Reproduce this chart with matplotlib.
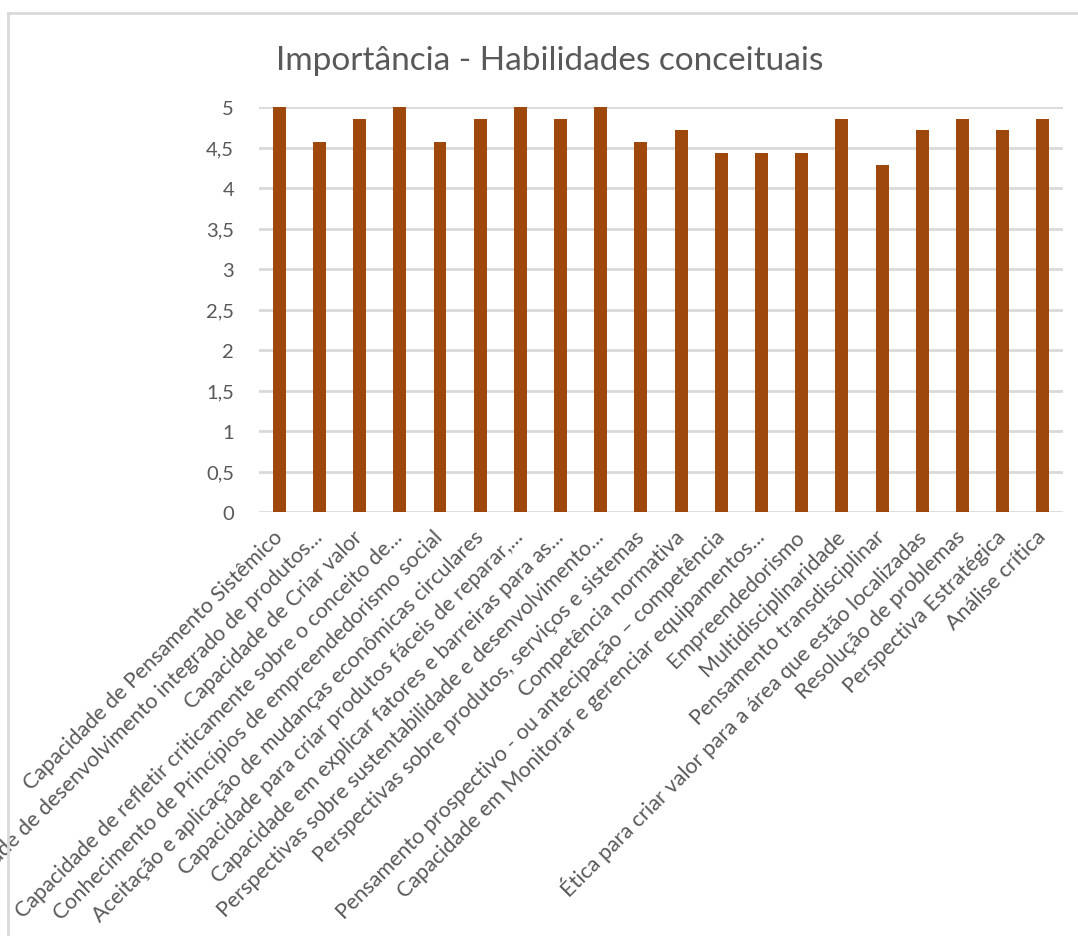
import matplotlib.pyplot as plt
from matplotlib.lines import Line2D
from matplotlib.ticker import FuncFormatter, MultipleLocator

plt.rcParams['font.family'] = ['Lato', 'DejaVu Sans']

# Habilidades avaliadas e média de importância
habilidades = [
    'Capacidade de Pensamento Sistêmico',
    'Capacidade de desenvolvimento integrado de produtos...',
    'Capacidade de Criar valor',
    'Capacidade de refletir criticamente sobre o conceito de...',
    'Conhecimento de Princípios de empreendedorismo social',
    'Aceitação e aplicação de mudanças econômicas circulares',
    'Capacidade para criar produtos fáceis de reparar,...',
    'Capacidade em explicar fatores e barreiras para as...',
    'Perspectivas sobre sustentabilidade e desenvolvimento...',
    'Perspectivas sobre produtos, serviços e sistemas',
    'Competência normativa',
    'Pensamento prospectivo - ou antecipação – competência',
    'Capacidade em Monitorar e gerenciar equipamentos...',
    'Empreendedorismo',
    'Multidisciplinaridade',
    'Pensamento transdisciplinar',
    'Ética para criar valor para a área que estão localizadas',
    'Resolução de problemas',
    'Perspectiva Estratégica',
    'Análise crítica',
]
importancia = [5, 4.571, 4.857, 5, 4.571, 4.857, 5, 4.857, 5, 4.571,
               4.714, 4.429, 4.429, 4.429, 4.857, 4.286, 4.714, 4.857, 4.714, 4.857]

cinza = '#595959'

fig = plt.figure(figsize=(10.78, 9.37), dpi=100)
ax = fig.add_axes([0.2403, 0.4525, 0.7458, 0.4322])

x = range(len(habilidades))
ax.bar(x, importancia, width=0.32, color='#9E480E', zorder=3)

ax.set_xlim(-0.5, len(habilidades) - 0.5)
ax.set_ylim(0, 5)
ax.yaxis.set_major_locator(MultipleLocator(0.5))
ax.yaxis.set_major_formatter(FuncFormatter(lambda v, p: f'{v:g}'.replace('.', ',')))
ax.grid(axis='y', color='#d9d9d9', linewidth=2, zorder=0)

for lado in ['top', 'right', 'left', 'bottom']:
    ax.spines[lado].set_visible(False)
ax.tick_params(axis='both', length=0, colors=cinza)
ax.tick_params(axis='y', pad=18, labelsize=14.5)

ax.set_xticks(list(x))
ax.set_xticklabels(habilidades, rotation=45, ha='right', va='center',
                   rotation_mode='anchor', fontsize=15.5)
for rotulo in ax.get_xticklabels():
    rotulo.set_y(-0.04)

fig.text(0.51, 0.935, 'Importância - Habilidades conceituais', ha='center', va='center',
         fontsize=24, color=cinza)

# moldura do gráfico
fig.add_artist(Line2D([8 / 1078, 8 / 1078], [1 - 14 / 937, 0], color='#d9d9d9', linewidth=2))
fig.add_artist(Line2D([8 / 1078, 1], [1 - 14 / 937, 1 - 14 / 937], color='#d9d9d9', linewidth=2))

fig.savefig('out.png', dpi=100)
